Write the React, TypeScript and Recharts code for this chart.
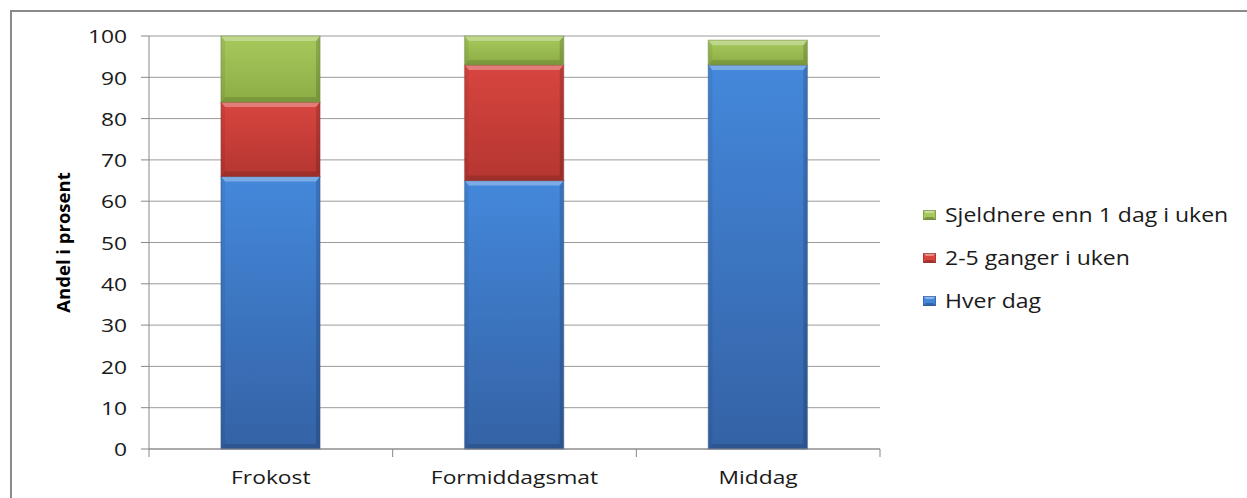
import React from 'react'
import { BarChart, Bar, XAxis, YAxis, CartesianGrid, Legend } from 'recharts'

const categories = ['Frokost', 'Formiddagsmat', 'Middag']
const hverDag = [66, 65, 93]
const toFemGanger = [18, 28, 0]
const sjeldnere = [16, 7, 6]
const yTicks = [0, 10, 20, 30, 40, 50, 60, 70, 80, 90, 100]

const seriesNames = ['Hver dag', '2-5 ganger i uken', 'Sjeldnere enn 1 dag i uken']

const data = categories.map((name, i) => ({
  name,
  hver: hverDag[i],
  tofem: toFemGanger[i],
  sjeldnere: sjeldnere[i],
}))

const PAGE_W = 1247
const PAGE_H = 498
const CHART_W = 1239
const CHART_H = 490
const MARGIN = { top: 28, right: 47, left: 0, bottom: 0 }
const Y_AXIS_W = 141
const LEGEND_W = 320
const PLOT_W = CHART_W - MARGIN.left - MARGIN.right - Y_AXIS_W - LEGEND_W
const BAND = PLOT_W / categories.length

const FONT = '"Open Sans", "DejaVu Sans", sans-serif'
const STRETCH = 1.2 // source text looks horizontally stretched
const TEXT = '#1a1a1a'

const PAL: Record<string, { id: string; top: string; bottom: string; edge: string }> = {
  hver: { id: 'gBlue', top: '#4488DB', bottom: '#3462A5', edge: '#2E5690' },
  tofem: { id: 'gRed', top: '#D8453F', bottom: '#B53631', edge: '#99302B' },
  sjeldnere: { id: 'gGreen', top: '#A6C95C', bottom: '#8DAD45', edge: '#71893A' },
}

const BevelBar = (props: any) => {
  const { x, y, width: w, height: h, pal } = props
  if (!h || h <= 0) return null
  const b = Math.min(5, h / 2)
  const s = Math.min(4, h / 2)
  return (
    <g>
      <rect x={x - 1} y={y} width={w + 2} height={h + 1} fill="#000" fillOpacity={0.06} />
      <rect x={x} y={y} width={w} height={h} fill={`url(#${pal.id})`} />
      {/* top bevel */}
      <polygon
        points={`${x},${y} ${x + w},${y} ${x + w - s},${y + b} ${x + s},${y + b}`}
        fill="#ffffff"
        fillOpacity={0.3}
      />
      {/* left bevel */}
      <polygon
        points={`${x},${y} ${x + s},${y + b} ${x + s},${y + h - b} ${x},${y + h}`}
        fill="#000000"
        fillOpacity={0.06}
      />
      {/* right bevel */}
      <polygon
        points={`${x + w},${y} ${x + w - s},${y + b} ${x + w - s},${y + h - b} ${x + w},${y + h}`}
        fill="#000000"
        fillOpacity={0.15}
      />
      {/* bottom bevel */}
      <polygon
        points={`${x},${y + h} ${x + s},${y + h - b} ${x + w - s},${y + h - b} ${x + w},${y + h}`}
        fill="#000000"
        fillOpacity={0.13}
      />
      <rect x={x} y={y} width={w} height={h} fill="none" stroke={pal.edge} strokeOpacity={0.5} strokeWidth={1} />
    </g>
  )
}

const LegendIcon = ({ pal }: any) => (
  <svg width={13} height={10} style={{ marginRight: 9, flexShrink: 0 }}>
    <rect x={0} y={0} width={13} height={10} fill={pal.top} />
    <polygon points="0,0 13,0 10,3 3,3" fill="#fff" fillOpacity={0.4} />
    <polygon points="0,10 3,7 10,7 13,10" fill="#000" fillOpacity={0.25} />
    <rect x={0.5} y={0.5} width={12} height={9} fill="none" stroke={pal.edge} strokeOpacity={0.6} />
  </svg>
)

const CustomLegend = () => {
  const keys = ['sjeldnere', 'tofem', 'hver']
  const labels = [seriesNames[2], seriesNames[1], seriesNames[0]]
  return (
    <div style={{ fontFamily: FONT, fontSize: 19.5, color: TEXT }}>
      {keys.map((k, i) => (
        <div key={k} style={{ display: 'flex', alignItems: 'center', height: 43, whiteSpace: 'nowrap' }}>
          <LegendIcon pal={PAL[k]} />
          <span style={{ display: 'inline-block', transform: `scaleX(1.18)`, transformOrigin: 'left center' }}>
            {labels[i]}
          </span>
        </div>
      ))}
    </div>
  )
}

const CategoryTick = (props: any) => {
  const { x, y, payload, index } = props
  const left = x - BAND / 2
  const right = x + BAND / 2
  const ty = y + 27
  return (
    <g>
      <line x1={left} y1={y - 8} x2={left} y2={y} stroke="#888888" />
      {index === categories.length - 1 && <line x1={right} y1={y - 8} x2={right} y2={y} stroke="#888888" />}
      <text
        x={x}
        y={ty}
        textAnchor="middle"
        fill={TEXT}
        fontSize={19}
        fontFamily={FONT}
        transform={`translate(${x} ${ty}) scale(${STRETCH} 1) translate(${-x} ${-ty})`}
      >
        {payload.value}
      </text>
    </g>
  )
}

const ValueTick = (props: any) => {
  const { x, y, payload } = props
  return (
    <text
      x={x}
      y={y}
      textAnchor="end"
      dominantBaseline="central"
      fill={TEXT}
      fontSize={19}
      fontFamily={FONT}
      transform={`translate(${x} ${y}) scale(${STRETCH} 1) translate(${-x} ${-y})`}
    >
      {payload.value}
    </text>
  )
}

const YLabel = (props: any) => {
  const { viewBox } = props
  const cx = viewBox.x + 54
  const cy = viewBox.y + viewBox.height / 2
  return (
    <text
      x={cx}
      y={cy}
      transform={`rotate(-90 ${cx} ${cy})`}
      textAnchor="middle"
      dominantBaseline="central"
      fontFamily={FONT}
      fontWeight="bold"
      fontSize={18.5}
      fill="#000"
    >
      Andel i prosent
    </text>
  )
}

export default function App() {
  return (
    <div style={{ position: 'relative', width: PAGE_W, height: PAGE_H, overflow: 'hidden', background: '#fff' }}>
      <style>{'html, body { margin: 0; padding: 0; overflow: hidden; }'}</style>
      <div
        style={{
          position: 'absolute',
          left: 10,
          top: 10,
          width: PAGE_W,
          height: PAGE_H,
          borderTop: '2px solid #8a8a8a',
          borderLeft: '2px solid #8a8a8a',
        }}
      />
      <div style={{ position: 'absolute', left: 8, top: 8 }}>
        <BarChart width={CHART_W} height={CHART_H} data={data} margin={MARGIN} barSize={99}>
          <defs>
            {Object.values(PAL).map((p) => (
              <linearGradient key={p.id} id={p.id} x1="0" y1="0" x2="0" y2="1">
                <stop offset="0%" stopColor={p.top} />
                <stop offset="100%" stopColor={p.bottom} />
              </linearGradient>
            ))}
          </defs>
          <CartesianGrid vertical={false} stroke="#9a9a9a" />
          <XAxis
            dataKey="name"
            height={49}
            tickLine={false}
            tickSize={8}
            tickMargin={0}
            axisLine={{ stroke: '#888888' }}
            tick={<CategoryTick />}
            interval={0}
          />
          <YAxis
            width={Y_AXIS_W}
            domain={[0, 100]}
            ticks={yTicks}
            interval={0}
            tickSize={8}
            tickMargin={14}
            tickLine={{ stroke: '#888888' }}
            axisLine={{ stroke: '#888888' }}
            tick={<ValueTick />}
            label={<YLabel />}
          />
          <Legend
            layout="vertical"
            align="right"
            verticalAlign="middle"
            content={<CustomLegend />}
            wrapperStyle={{ width: LEGEND_W, left: 915, top: 185, right: 'auto' }}
          />
          <Bar dataKey="hver" name={seriesNames[0]} stackId="a" isAnimationActive={false} shape={(p: any) => <BevelBar {...p} pal={PAL.hver} />} />
          <Bar dataKey="tofem" name={seriesNames[1]} stackId="a" isAnimationActive={false} shape={(p: any) => <BevelBar {...p} pal={PAL.tofem} />} />
          <Bar dataKey="sjeldnere" name={seriesNames[2]} stackId="a" isAnimationActive={false} shape={(p: any) => <BevelBar {...p} pal={PAL.sjeldnere} />} />
        </BarChart>
      </div>
    </div>
  )
}
